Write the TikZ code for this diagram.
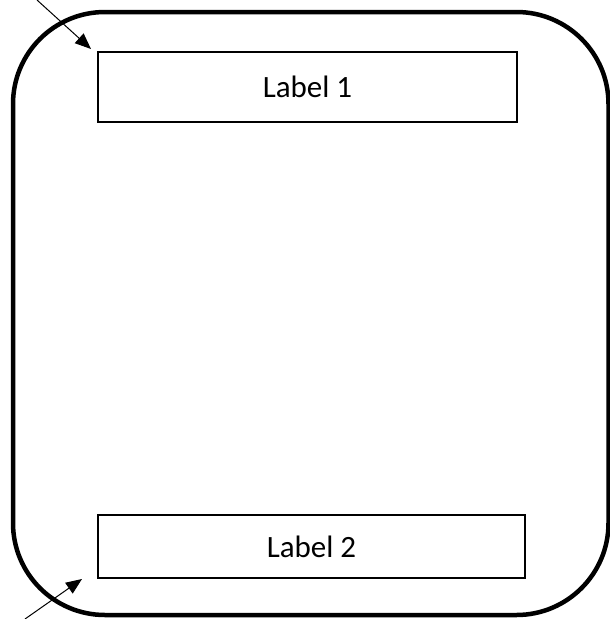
\documentclass[tikz,border=0pt]{standalone}
\usepackage{fontspec}
\setmainfont{Carlito}
\usepackage{tikz}
\usetikzlibrary{arrows.meta}
\tikzset{labelbox/.style={draw,line width=2pt,rectangle,font=\fontsize{31}{37}\selectfont},
	pointer/.style={line width=1pt,-{Triangle[length=16pt,width=13pt]}}}

\begin{document}
\begin{tikzpicture}[x=1pt,y=-1pt]
			\useasboundingbox (0,0) rectangle (610,619);
			\draw[line width=4.5pt,rounded corners=92pt] (13,12) rectangle (608.5,615);
			\node[labelbox,minimum width=419pt,minimum height=70pt] (lab1) at (307.5,87) {Label 1};
			\node[labelbox,minimum width=427pt,minimum height=63pt] (lab2) at (311.5,546.5) {Label 2};
			\coordinate (in1) at (37,0);
			\coordinate (in2) at (25,619);
			\draw[pointer] (in1) -- ([shift={(-6pt,2pt)}]lab1.north west);
			\draw[pointer] (in2) -- ([xshift=-15pt]lab2.south west);
		\end{tikzpicture}
\end{document}
